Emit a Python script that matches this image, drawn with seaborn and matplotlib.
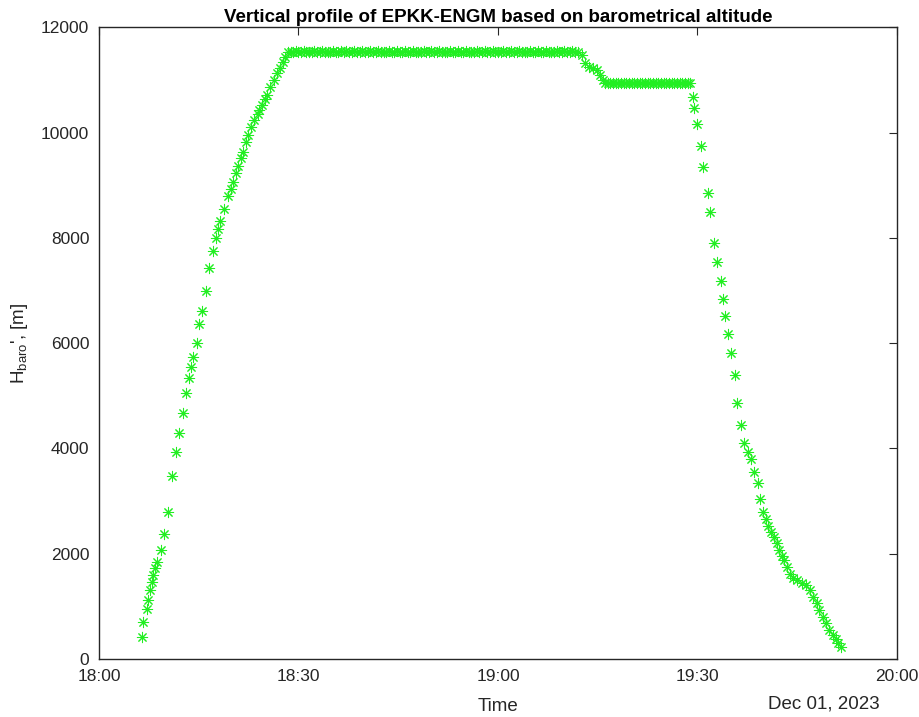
import pandas as pd
import seaborn as sns
import matplotlib.pyplot as plt
import matplotlib.dates as mdates

# Flight EPKK-ENGM, 01 Dec 2023 - minutes after 18:00 and baro altitude [m]
climb_min = [6.51, 6.66, 7.17, 7.41, 7.67, 7.92, 8.17, 8.42, 8.77, 9.28,
             9.82, 10.33, 11.02, 11.58, 11.98, 12.59, 13.08, 13.58, 13.83, 14.09,
             14.69, 15.08, 15.49, 16.05, 16.59, 17.10, 17.59, 17.94, 18.20, 18.80,
             19.44, 19.85, 20.20, 20.60, 20.95, 21.35, 21.70, 22.11, 22.45, 22.86,
             23.31, 23.86, 24.11, 24.51, 25.02, 25.26, 25.76, 26.26, 26.77, 27.17,
             27.68, 28.02, 28.38]
climb_alt = [424, 697, 944, 1121, 1311, 1468, 1596, 1723, 1848, 2071,
             2369, 2787, 3471, 3932, 4299, 4673, 5047, 5332, 5553, 5743,
             6009, 6364, 6617, 6997, 7422, 7757, 7992, 8163, 8327, 8549,
             8796, 8923, 9068, 9227, 9366, 9512, 9637, 9827, 9954, 10112,
             10240, 10353, 10429, 10524, 10633, 10714, 10872, 11000, 11127, 11222,
             11348, 11443, 11525]

cruise1_min = [28.8, 29.2, 29.6, 30.0, 30.4, 30.8, 31.2, 31.6, 32.0, 32.4,
               32.8, 33.2, 33.6, 34.0, 34.4, 34.8, 35.2, 35.6, 36.0, 36.4,
               36.8, 37.2, 37.6, 38.0, 38.4, 38.8, 39.2, 39.6, 40.0, 40.4,
               40.8, 41.2, 41.6, 42.0, 42.4, 42.8, 43.2, 43.6, 44.0, 44.4,
               44.8, 45.2, 45.6, 46.0, 46.4, 46.8, 47.2, 47.6, 48.0, 48.4,
               48.8, 49.2, 49.6, 50.0, 50.4, 50.8, 51.2, 51.6, 52.0, 52.4,
               52.8, 53.2, 53.6, 54.0, 54.4, 54.8, 55.2, 55.6, 56.0, 56.4,
               56.8, 57.2, 57.6, 58.0, 58.4, 58.8, 59.2, 59.6, 60.0, 60.4,
               60.8, 61.2, 61.6, 62.0, 62.4, 62.8, 63.2, 63.6, 64.0, 64.4,
               64.8, 65.2, 65.6, 66.0, 66.4, 66.8, 67.2, 67.6, 68.0, 68.4,
               68.8, 69.2, 69.6, 70.0, 70.4, 70.8, 71.2, 71.6, 72.0]
cruise1_alt = [11540, 11540, 11545, 11540, 11540, 11545, 11540, 11540, 11540, 11545,
               11540, 11540, 11545, 11540, 11540, 11540, 11545, 11540, 11540, 11545,
               11540, 11545, 11540, 11540, 11545, 11540, 11540, 11545, 11540, 11540,
               11545, 11540, 11540, 11545, 11540, 11540, 11540, 11545, 11540, 11540,
               11545, 11540, 11540, 11545, 11540, 11540, 11545, 11540, 11540, 11540,
               11545, 11540, 11540, 11545, 11540, 11540, 11545, 11540, 11540, 11540,
               11545, 11540, 11540, 11545, 11540, 11540, 11545, 11540, 11540, 11540,
               11545, 11540, 11540, 11545, 11540, 11540, 11545, 11540, 11540, 11540,
               11545, 11540, 11540, 11545, 11540, 11540, 11545, 11540, 11540, 11540,
               11545, 11540, 11540, 11545, 11540, 11540, 11545, 11540, 11540, 11540,
               11545, 11540, 11540, 11545, 11540, 11540, 11545, 11540, 11540]

step_min = [72.59, 73.08, 73.73, 74.33, 74.93, 75.34, 75.74]
step_alt = [11474, 11316, 11252, 11233, 11189, 11094, 11000]

cruise2_min = [76.1, 76.5, 76.9, 77.3, 77.7, 78.1, 78.5, 78.9, 79.3, 79.7,
               80.1, 80.5, 80.9, 81.3, 81.7, 82.1, 82.5, 82.9, 83.3, 83.7,
               84.1, 84.5, 84.9, 85.3, 85.7, 86.1, 86.5, 86.9, 87.3, 87.7,
               88.1, 88.5, 88.9]
cruise2_alt = [10940, 10940, 10945, 10940, 10940, 10945, 10940, 10940, 10940, 10945,
               10940, 10940, 10945, 10940, 10940, 10945, 10940, 10940, 10940, 10945,
               10940, 10940, 10945, 10940, 10940, 10945, 10940, 10940, 10940, 10945,
               10940, 10940, 10945]

descent_min = [89.28, 89.52, 89.97, 90.48, 90.87, 91.53, 91.88, 92.48, 92.98, 93.49,
               93.79, 94.18, 94.59, 95.04, 95.59, 95.98, 96.54, 96.95, 97.64, 98.05,
               98.54, 99.05, 99.40, 99.89, 100.30, 100.65, 101.05, 101.50, 101.91, 102.30,
               102.66, 103.01, 103.50, 103.91, 104.41, 105.01, 105.67, 106.32, 106.92, 107.42,
               107.93, 108.32, 108.82, 109.32, 109.82, 110.33, 110.83, 111.17, 111.53]
descent_alt = [10671, 10473, 10163, 9751, 9352, 8858, 8492, 7909, 7536, 7175,
               6833, 6516, 6174, 5819, 5401, 4857, 4445, 4109, 3938, 3794,
               3558, 3338, 3040, 2798, 2654, 2527, 2418, 2323, 2197, 2071,
               1957, 1881, 1754, 1615, 1533, 1501, 1450, 1406, 1311, 1184,
               1058, 931, 804, 678, 551, 456, 374, 298, 222]

minutes = climb_min + cruise1_min + step_min + cruise2_min + descent_min
altitude = climb_alt + cruise1_alt + step_alt + cruise2_alt + descent_alt

t0 = pd.Timestamp("2023-12-01 18:00")
df = pd.DataFrame({"Time": t0 + pd.to_timedelta(minutes, unit="min"),
                   "H": altitude})

sns.set_style("white")
plt.rcParams["font.family"] = ["Liberation Sans", "DejaVu Sans"]
plt.rcParams["mathtext.fontset"] = "custom"
plt.rcParams["mathtext.rm"] = "Liberation Sans"
plt.rcParams["mathtext.it"] = "Liberation Sans"

fig = plt.figure(figsize=(9.2, 7.17), dpi=100)
ax = fig.add_axes([0.1076, 0.0809, 0.8674, 0.8810])

sns.scatterplot(data=df, x="Time", y="H", ax=ax, marker=(8, 2, 0), s=55,
                color="#22ee22", edgecolor="#22ee22", linewidth=0.75, legend=False)

ax.set_xlim(t0, t0 + pd.Timedelta(hours=2))
ax.set_ylim(0, 12000)
ax.set_yticks([0, 2000, 4000, 6000, 8000, 10000, 12000])
ax.xaxis.set_major_locator(mdates.MinuteLocator(byminute=[0, 30]))
ax.xaxis.set_major_formatter(mdates.DateFormatter("%H:%M"))

dark = "#262626"
for sp in ax.spines.values():
    sp.set_color(dark)
    sp.set_linewidth(1.0)
ax.tick_params(direction="in", length=6, width=0.8, colors=dark,
               labelsize=12.5, top=True, right=True, pad=7)

ax.set_title("Vertical profile of EPKK-ENGM based on barometrical altitude",
             fontsize=13.5, fontweight="bold", color="black", pad=4)
ax.set_xlabel("Time", fontsize=13.5, color=dark, labelpad=10)
ax.set_ylabel(r"H$_{\rm baro}$', [m]", fontsize=13.5, color=dark, labelpad=8)
fig.text(880 / 920, 1 - 704 / 717, "Dec 01, 2023", ha="right", va="center",
         fontsize=13.5, color=dark)

plt.savefig("out.png", dpi=100)
